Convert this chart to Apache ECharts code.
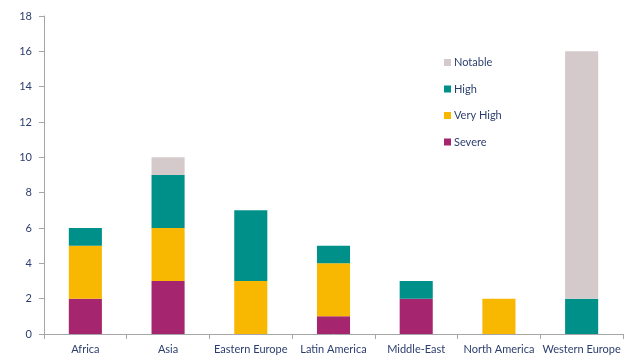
<!DOCTYPE html>
<html><head><meta charset="utf-8">
<script src="https://cdn.jsdelivr.net/npm/echarts@6/dist/echarts.min.js"></script>
<style>html,body{margin:0;padding:0;background:#fff}#c{width:638px;height:362px}</style>
</head><body><div id="c"></div>
<script>
var categories = ['Africa','Asia','Eastern Europe','Latin America','Middle-East','North America','Western Europe'];
var severe   = [2,3,0,1,2,0,0];
var veryHigh = [3,3,3,3,0,2,0];
var high     = [1,3,4,1,1,0,2];
var notable  = [0,1,0,0,0,0,14];
var yTicks = [0,2,4,6,8,10,12,14,16,18];

var txt = '#2C3E6E';
function s(name, data, color){
  return {name:name, type:'bar', stack:'t', data:data, barWidth:'40%', itemStyle:{color:color}};
}
var chart = echarts.init(document.getElementById('c'));
chart.setOption({
  animation:false,
  textStyle:{fontFamily:'Lato, "Noto Sans", sans-serif'},
  grid:{left:44, right:15, top:16, bottom:28},
  legend:{
    orient:'vertical', left:439, top:52, itemGap:15.5,
    itemWidth:7, itemHeight:7, icon:'rect',
    data:['Notable','High','Very High','Severe'],
    textStyle:{color:txt, fontSize:11, padding:[0,0,0,-2]}
  },
  xAxis:{
    type:'category', data:categories,
    axisLine:{lineStyle:{color:'#A6A6A6'}},
    axisTick:{show:true, lineStyle:{color:'#A6A6A6'}},
    axisLabel:{color:txt, fontSize:11, margin:10, interval:0}
  },
  yAxis:{
    type:'value', min:yTicks[0], max:yTicks[yTicks.length-1], interval:2,
    splitLine:{show:false},
    axisLine:{show:true, lineStyle:{color:'#A6A6A6'}},
    axisTick:{show:true, lineStyle:{color:'#A6A6A6'}},
    axisLabel:{color:txt, fontSize:11, margin:12}
  },
  series:[
    s('Severe', severe, '#A5266F'),
    s('Very High', veryHigh, '#F8B700'),
    s('High', high, '#00908A'),
    s('Notable', notable, '#D4CACB')
  ]
});
</script></body></html>
